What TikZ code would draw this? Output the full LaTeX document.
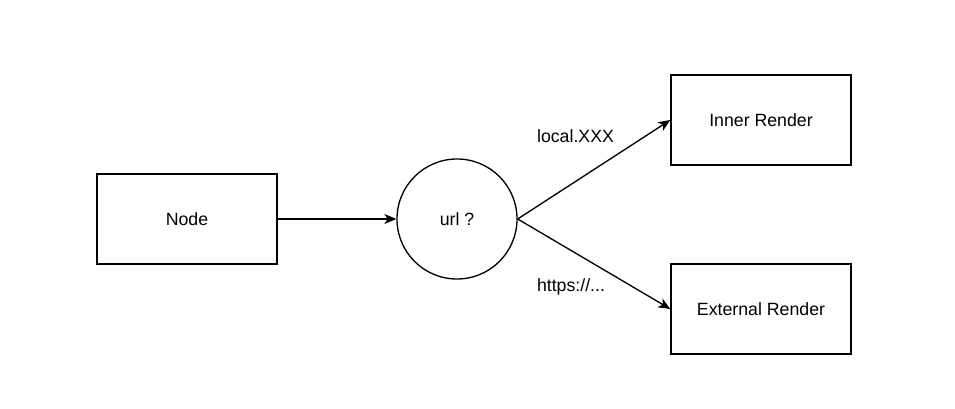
\documentclass[tikz,border=0pt]{standalone}
\usepackage{fontspec}
\setmainfont{Liberation Sans}
\usetikzlibrary{arrows.meta}
\begin{document}
\begin{tikzpicture}[x=0.75pt,y=-0.75pt,
  txt/.style={font=\fontsize{13.3}{16}\selectfont},
  box/.style={draw,line width=1pt,minimum width=135pt,minimum height=67.5pt,inner sep=0pt,txt},
  circ/.style={draw,line width=1pt,circle,minimum size=90pt,inner sep=0pt,txt},
  conn/.style={line width=1pt,-{Stealth[length=9pt,width=7.5pt,inset=2.5pt]}},
  lbl/.style={txt,inner sep=0pt}]
\useasboundingbox (0,0) rectangle (955,409);
\node[box] (node) at (187,219) {Node};
\node[circ] (url) at (457,219) {url ?};
\node[box] (inner) at (761,120) {Inner Render};
\node[box] (ext) at (761,309) {External Render};
\draw[conn] (node.east) -- (url.west);
\draw[conn] (url.east) -- (inner.west);
\draw[conn] (url.east) -- (ext.west);
\node[lbl] (l1) at (575.5,136) {local.XXX};
\node[lbl] (l2) at (571,287) {https://...};
\end{tikzpicture}
\end{document}
